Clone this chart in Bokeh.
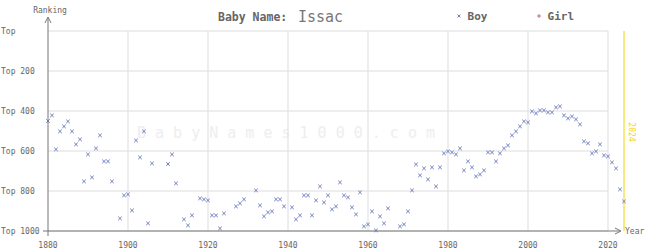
import math
from bokeh.plotting import figure
from bokeh.models import Range1d, Label, Arrow, OpenHead
from bokeh.core.properties import value
from bokeh.embed import file_html
from bokeh.resources import INLINE

# ---- data ----
baby_name = "Issac"
current_year = 2024
boy_years = [1880, 1881, 1882, 1883, 1884, 1885, 1886, 1887, 1888, 1889,
             1890, 1891, 1892, 1893, 1894, 1895, 1896, 1898, 1899, 1900,
             1901, 1902, 1903, 1904, 1905, 1906, 1910, 1911, 1912, 1914,
             1915, 1916, 1918, 1919, 1920, 1921, 1922, 1923, 1924, 1927,
             1928, 1929, 1932, 1933, 1934, 1935, 1936, 1937, 1938, 1939,
             1941, 1942, 1943, 1944, 1945, 1946, 1947, 1948, 1949, 1950,
             1951, 1952, 1953, 1954, 1955, 1956, 1957, 1958, 1959, 1960,
             1961, 1962, 1963, 1964, 1965, 1968, 1969, 1970, 1971, 1972,
             1973, 1974, 1975, 1976, 1977, 1978, 1979, 1980, 1981, 1982,
             1983, 1984, 1985, 1986, 1987, 1988, 1989, 1990, 1991, 1992,
             1993, 1994, 1995, 1996, 1997, 1998, 1999, 2000, 2001, 2002,
             2003, 2004, 2005, 2006, 2007, 2008, 2009, 2010, 2011, 2012,
             2013, 2014, 2015, 2016, 2017, 2018, 2019, 2020, 2021, 2022,
             2023, 2024]
boy_ranks = [450, 422, 592, 502, 477, 452, 502, 567, 542, 752,
             617, 732, 587, 522, 652, 652, 752, 937, 822, 817,
             897, 547, 632, 502, 962, 662, 665, 617, 762, 942,
             972, 922, 837, 842, 847, 922, 922, 987, 912, 877,
             862, 842, 797, 872, 927, 907, 902, 842, 842, 877,
             882, 942, 922, 822, 822, 922, 847, 777, 857, 822,
             892, 877, 757, 822, 832, 882, 917, 807, 977, 967,
             902, 997, 927, 962, 887, 977, 967, 902, 797, 667,
             722, 687, 742, 682, 777, 682, 612, 602, 607, 617,
             587, 697, 652, 682, 727, 717, 697, 607, 607, 652,
             612, 587, 572, 522, 502, 477, 452, 457, 402, 412,
             397, 397, 407, 407, 382, 377, 422, 437, 427, 442,
             467, 552, 562, 612, 602, 567, 622, 627, 657, 687,
             792, 852]
girl_years = []
girl_ranks = []
x_ticks = [1880, 1900, 1920, 1940, 1960, 1980, 2000, 2020]
x_tick_labels = [str(t) for t in x_ticks]
y_ticks = [0, 200, 400, 600, 800, 1000]
y_tick_labels = ["Top", "Top 200", "Top 400", "Top 600", "Top 800", "Top 1000"]
legend_labels = ["Boy", "Girl"]

# ---- styles ----
FONT = "DejaVu Sans Mono"
AXIS = "#777777"
TXT = "#666666"
GRID = "#dddddd"
BOY = "#6b7bbf"
GIRL = "#cc6688"
YEL = "#f5d400"

# frame covers the whole canvas: 4 px per year, 0.2 px per rank
p = figure(width=645, height=250, output_backend="svg", toolbar_location=None,
           x_range=Range1d(1868.125, 2029.375), y_range=Range1d(1097.5, -152.5),
           x_axis_location=None, y_axis_location=None,
           min_border_left=0, min_border_right=0, min_border_top=0,
           min_border_bottom=0)
p.outline_line_color = None
p.grid.visible = False
p.background_fill_color = "white"
p.border_fill_color = "white"

x_left = x_ticks[0]
y_bottom = y_ticks[-1]

# grid lines (ending at last tick year)
p.segment(x0=[x_ticks[0]] * len(y_ticks), x1=[x_ticks[-1]] * len(y_ticks),
          y0=y_ticks, y1=y_ticks, line_color=GRID, line_width=1)
p.segment(x0=x_ticks[1:], x1=x_ticks[1:], y0=[y_ticks[0]] * (len(x_ticks) - 1),
          y1=[y_bottom] * (len(x_ticks) - 1), line_color=GRID, line_width=1)

# tick labels
p.text(x=x_ticks, y=[y_bottom + 65] * len(x_ticks), text=x_tick_labels,
       text_font=value(FONT), text_font_size="8px", text_color=TXT,
       text_align="center", text_baseline="middle")
p.text(x=[x_left - 11.75] * len(y_ticks), y=y_ticks, text=y_tick_labels,
       text_font=value(FONT), text_font_size="8px", text_color=TXT,
       text_align="left", text_baseline="middle")

# watermark
p.add_layout(Label(x=1939.5, y=510, text=" ".join("BabyNames1000.com"),
                   text_font=FONT, text_font_size="15px", text_color="#eeeeee",
                   text_align="center", text_baseline="middle", level="underlay"))

# current year line
p.segment(x0=[current_year], x1=[current_year], y0=[y_ticks[0]], y1=[y_bottom],
          line_color=YEL, line_width=1)
p.add_layout(Label(x=current_year + 2, y=505, text=str(current_year), angle=-math.pi / 2,
                   text_font=FONT, text_font_size="8px", text_color=YEL,
                   text_align="center", text_baseline="middle"))

# data
p.scatter(boy_years, boy_ranks, marker="x", size=5, line_color=BOY, line_width=1)
p.scatter(girl_years, girl_ranks, marker="cross", size=5, line_color=GIRL, line_width=1)

# axis arrows
p.add_layout(Arrow(end=OpenHead(size=6, line_color=AXIS, line_width=1),
                   x_start=x_left - 1.25, y_start=y_bottom, x_end=2023.25, y_end=y_bottom,
                   line_color=AXIS, line_width=1))
p.add_layout(Arrow(end=OpenHead(size=6, line_color=AXIS, line_width=1),
                   x_start=x_left, y_start=y_bottom + 25, x_end=x_left, y_end=-70,
                   line_color=AXIS, line_width=1))
p.add_layout(Label(x=1880.5, y=-105, text="Ranking", text_font=FONT, text_font_size="8px",
                   text_color=TXT, text_align="center", text_baseline="middle"))
p.add_layout(Label(x=2024.25, y=y_bottom, text="Year", text_font=FONT, text_font_size="8px",
                   text_color=TXT, text_align="left", text_baseline="middle"))

# title
p.add_layout(Label(x=1922.5, y=-70, text="Baby Name:", text_font=FONT,
                   text_font_size="11.5px", text_font_style="bold", text_color=TXT,
                   text_align="left", text_baseline="middle"))
p.add_layout(Label(x=1942.5, y=-70, text=baby_name, text_font=FONT,
                   text_font_size="15px", text_color="#777777",
                   text_align="left", text_baseline="middle"))

# legend (keys + labels)
p.scatter(x=[1982.75, 2002.75], y=[-75, -75], marker=["x", "cross"], size=4,
          line_color=[BOY, GIRL], line_width=1)
p.text(x=[1984.9, 2004.9], y=[-73, -73], text=legend_labels, text_font=value(FONT),
       text_font_size="11px", text_font_style="bold", text_color=TXT,
       text_align="left", text_baseline="middle")

open("out.html", "w").write(file_html(p, INLINE))
